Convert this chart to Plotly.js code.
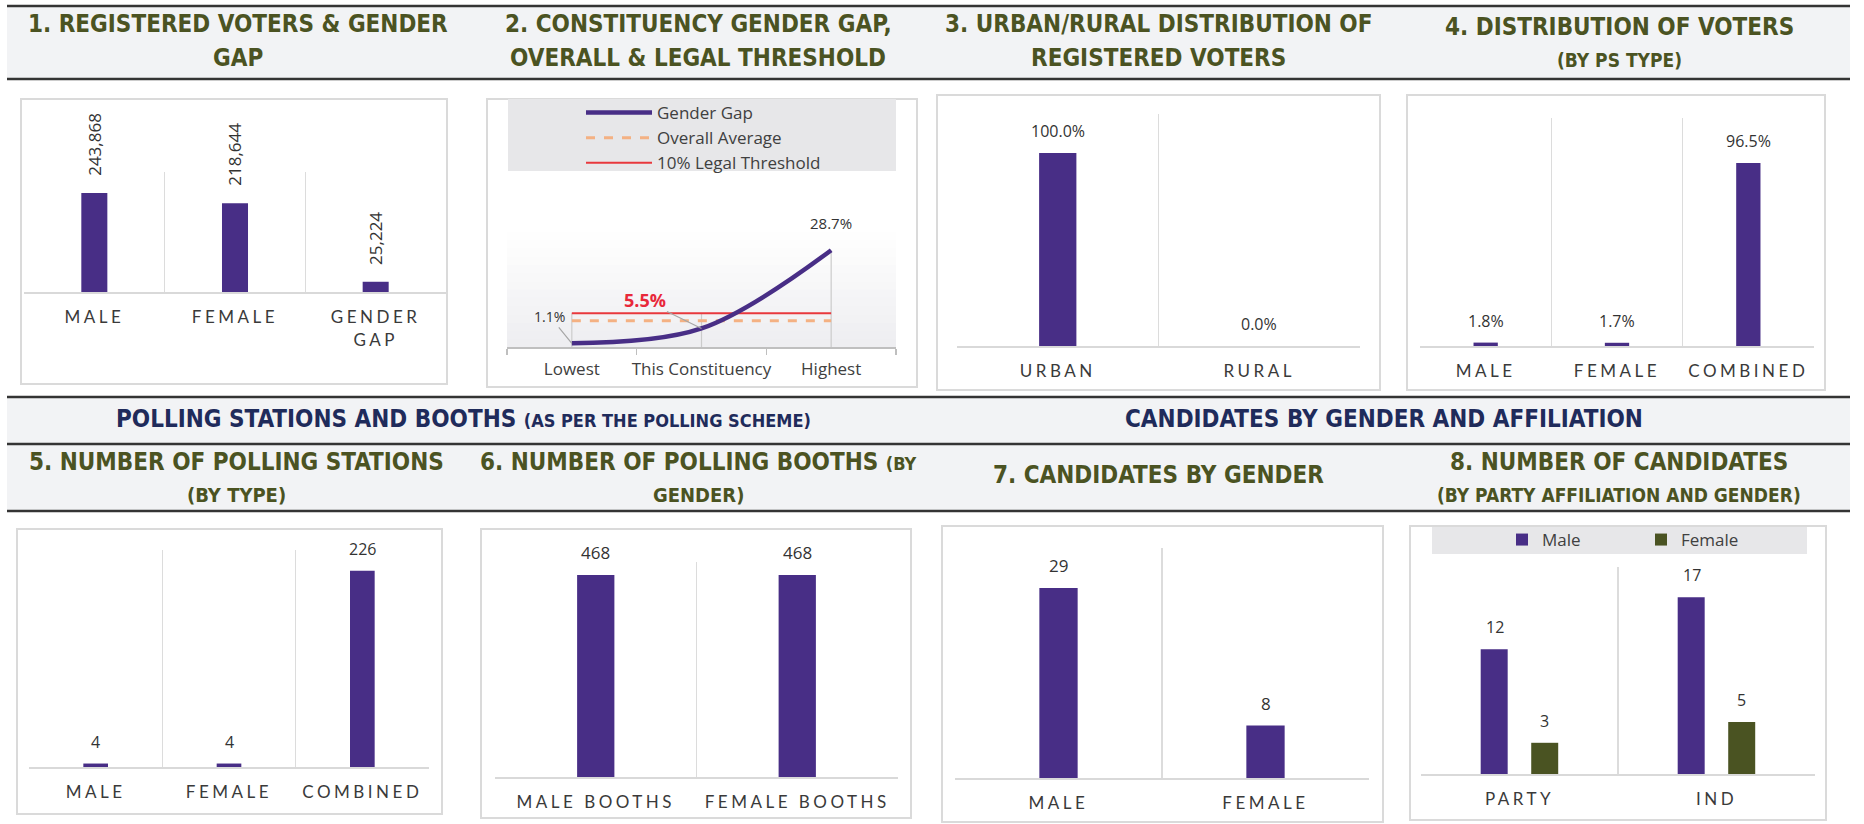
<!DOCTYPE html>
<html>
<head>
<meta charset="utf-8">
<script src="https://cdn.plot.ly/plotly-3.0.1.min.js"></script>
<style>
html,body{margin:0;padding:0;background:#fff;}
#chart{width:1864px;height:824px;}
g[class$="tick"] text{letter-spacing:3.5px;}
g.x2tick text{letter-spacing:0;}
</style>
</head>
<body>
<div id="chart"></div>
<script>
// ---------------- DATA ----------------
const voterCats = ['MALE', 'FEMALE', 'GENDER<br>GAP'];
const voterVals = [243868, 218644, 25224];
const voterLabels = ['243,868', '218,644', '25,224'];

const gapCats = ['Lowest', 'This Constituency', 'Highest'];
const gapVals = [1.1, 5.5, 28.7];
const gapLabels = ['1.1%', '5.5%', '28.7%'];
const overallAvg = 7.8;
const legalThreshold = 10;

const urbanCats = ['URBAN', 'RURAL'];
const urbanVals = [100.0, 0.0];
const urbanLabels = ['100.0%', '0.0%'];

const psTypeCats = ['MALE', 'FEMALE', 'COMBINED'];
const psTypeVals = [1.8, 1.7, 96.5];
const psTypeLabels = ['1.8%', '1.7%', '96.5%'];

const stationCats = ['MALE', 'FEMALE', 'COMBINED'];
const stationVals = [4, 4, 226];

const boothCats = ['MALE BOOTHS', 'FEMALE BOOTHS'];
const boothVals = [468, 468];

const candCats = ['MALE', 'FEMALE'];
const candVals = [29, 8];

const affilCats = ['PARTY', 'IND'];
const affilMale = [12, 17];
const affilFemale = [3, 5];

// ---------------- STYLE / GEOMETRY ----------------
const W = 1864, H = 824;
const X = v => v / W;
const Y = v => 1 - v / H;

const PURPLE = '#482e86';
const OLIVE = '#4a5322';
const TITLE_GREEN = '#4b5322';
const NAVY = '#1f2b5b';
const COND = '"DejaVu Sans Condensed","Liberation Sans Narrow",sans-serif';
const LABEL = '"Open Sans","Noto Sans",sans-serif';
const TICK = 'Lato,"Open Sans",sans-serif';

// [left, right, top, bottom] pixel boxes of plot areas, and y maxima
const geom = {
  1: [24, 446, 172, 292],
  2: [507, 896, 175, 347],
  3: [957, 1360, 114, 346],
  4: [1420, 1814, 118, 346],
  5: [29, 429, 550, 767],
  6: [495, 898, 562, 777],
  7: [955, 1369, 548, 778],
  8: [1421, 1815, 567, 774]
};
const ymax = {1: 295600, 2: 51, 3: 120.2, 4: 120.2, 5: 250, 6: 498, 7: 35.1, 8: 19.9};
const catsOf = {1: voterCats, 2: gapCats, 3: urbanCats, 4: psTypeCats, 5: stationCats, 6: boothCats, 7: candCats, 8: affilCats};

const sfx = n => (n > 1 ? String(n) : '');

// ---------------- TRACES ----------------
const traces = [];
function bars(n, cats, vals) {
  traces.push({
    type: 'bar', x: cats, y: vals, xaxis: 'x' + sfx(n), yaxis: 'y' + sfx(n),
    width: 0.185, marker: {color: PURPLE, line: {width: 0}},
    showlegend: false, hoverinfo: 'skip'
  });
}
bars(1, voterCats, voterVals);
bars(3, urbanCats, urbanVals);
bars(4, psTypeCats, psTypeVals);
bars(5, stationCats, stationVals);
bars(6, boothCats, boothVals);
bars(7, candCats, candVals);

// chart 8 grouped bars
traces.push({
  type: 'bar', name: 'Male', x: affilCats, y: affilMale, xaxis: 'x8', yaxis: 'y8',
  width: 0.137, offset: -0.197, marker: {color: PURPLE}, legend: 'legend2', hoverinfo: 'skip'
});
traces.push({
  type: 'bar', name: 'Female', x: affilCats, y: affilFemale, xaxis: 'x8', yaxis: 'y8',
  width: 0.137, offset: 0.0595, marker: {color: OLIVE}, legend: 'legend3', hoverinfo: 'skip'
});

// chart 2: drop lines, threshold, average, gender gap curve
const dropX = [], dropY = [];
gapCats.forEach((c, i) => {
  const top = Math.max(gapVals[i], legalThreshold, overallAvg);
  dropX.push(c, c, null);
  dropY.push(0, top, null);
});
traces.push({
  type: 'scatter', mode: 'lines', x: dropX, y: dropY, xaxis: 'x2', yaxis: 'y2',
  line: {color: '#cbcbcb', width: 1.2}, showlegend: false, hoverinfo: 'skip'
});
const ends = [gapCats[0], gapCats[gapCats.length - 1]];
traces.push({
  type: 'scatter', mode: 'lines', name: '10% Legal Threshold', legendrank: 3,
  x: ends, y: [legalThreshold, legalThreshold], xaxis: 'x2', yaxis: 'y2',
  line: {color: '#e8383d', width: 2}, legend: 'legend', hoverinfo: 'skip'
});
traces.push({
  type: 'scatter', mode: 'lines', name: 'Overall Average', legendrank: 2,
  x: ends, y: [overallAvg, overallAvg], xaxis: 'x2', yaxis: 'y2',
  line: {color: '#f4b183', width: 3, dash: 'dash'}, legend: 'legend', hoverinfo: 'skip'
});
traces.push({
  type: 'scatter', mode: 'lines', name: 'Gender Gap', legendrank: 1,
  x: gapCats, y: gapVals, xaxis: 'x2', yaxis: 'y2',
  line: {color: PURPLE, width: 4.5, shape: 'spline', smoothing: 1}, legend: 'legend', hoverinfo: 'skip'
});

// ---------------- LAYOUT ----------------
const legendFont = {family: LABEL, size: 17, color: '#404040'};
const layout = {
  width: W, height: H, margin: {l: 0, r: 0, t: 0, b: 0},
  paper_bgcolor: '#ffffff', plot_bgcolor: 'rgba(0,0,0,0)',
  barmode: 'overlay', showlegend: true, hovermode: false,
  shapes: [], annotations: [],
  legend: {
    x: X(581), y: Y(95), xanchor: 'left', yanchor: 'top', bgcolor: 'rgba(0,0,0,0)',
    font: {family: LABEL, size: 17, color: '#404040'}, itemwidth: 66, tracegroupgap: 0
  },
  legend2: {
    orientation: 'h', x: X(1502), y: Y(540), xanchor: 'left', yanchor: 'middle',
    bgcolor: 'rgba(0,0,0,0)', font: legendFont
  },
  legend3: {
    orientation: 'h', x: X(1641), y: Y(540), xanchor: 'left', yanchor: 'middle',
    bgcolor: 'rgba(0,0,0,0)', font: legendFont
  }
};

for (let n = 1; n <= 8; n++) {
  const [l, r, t, b] = geom[n];
  const s = sfx(n);
  const cats = catsOf[n];
  const xa = {
    domain: [X(l), X(r)], anchor: 'y' + s, type: 'category',
    categoryorder: 'array', categoryarray: cats,
    range: [-0.5, cats.length - 0.5], tickson: 'boundaries', tickangle: 0,
    showgrid: true, gridcolor: '#dcdcdc', gridwidth: 1.5,
    showline: true, linecolor: '#d9d9d9', linewidth: 2,
    ticks: '', ticklabelstandoff: 9, zeroline: false, fixedrange: true,
    tickfont: {family: TICK, size: 17, color: '#3a3a3a'}
  };
  if (n === 2) {
    Object.assign(xa, {
      showgrid: false, linecolor: '#bfbfbf', linewidth: 1.5,
      ticks: 'outside', ticklen: 6, tickcolor: '#bfbfbf', tickwidth: 1.2,
      ticklabelstandoff: 6, tickfont: {family: LABEL, size: 17, color: '#404040'}
    });
  }
  layout['xaxis' + s] = xa;
  layout['yaxis' + s] = {
    domain: [Y(b), Y(t)], anchor: 'x' + s, range: [0, ymax[n]],
    visible: false, fixedrange: true
  };
}

// ---- decorative shapes ----
const S = layout.shapes;
function rect(x0, x1, y0, y1, fill, lineColor, lw) {
  S.push({type: 'rect', xref: 'paper', yref: 'paper', layer: 'below',
    x0: X(x0), x1: X(x1), y0: Y(y1), y1: Y(y0),
    fillcolor: fill, line: {color: lineColor || 'rgba(0,0,0,0)', width: lw || 0}});
}
function hline(y, x0, x1, color, w) {
  S.push({type: 'line', xref: 'paper', yref: 'paper', layer: 'above',
    x0: X(x0), x1: X(x1), y0: Y(y), y1: Y(y), line: {color: color, width: w}});
}
// header bands
rect(7, 1850, 6, 79, '#f2f3f5');
rect(7, 1850, 397, 444, '#f2f3f5');
rect(7, 1850, 444, 511, '#f2f3f5');
[6, 79, 397, 444, 511].forEach(y => hline(y, 7, 1850, '#343434', 2.5));

// chart boxes
[[21, 447, 99, 384], [487, 917, 99, 387], [937, 1380, 95, 390], [1407, 1825, 95, 390],
 [17, 442, 529, 814], [481, 911, 529, 818], [942, 1383, 526, 822], [1410, 1826, 526, 820]]
  .forEach(bx => rect(bx[0], bx[1], bx[2], bx[3], 'rgba(0,0,0,0)', '#dadada', 2));

// chart 2 plot background gradient
const g0 = 232, g1 = 347, steps = 14;
for (let i = 0; i < steps; i++) {
  const f = (i + 0.5) / steps;
  const c = Math.round(255 - f * 18);
  const cb = Math.round(255 - f * 15);
  rect(507, 896, g0 + (g1 - g0) * i / steps, g0 + (g1 - g0) * (i + 1) / steps + 0.5,
    'rgb(' + c + ',' + c + ',' + cb + ')');
}
// legend backgrounds
rect(508, 896, 99, 171, '#e7e7e9');
rect(1432, 1807, 527, 554, '#e7e7e9');

// ---- titles ----
const A = layout.annotations;
function txt(text, cx, cy, size, color, family, weight) {
  A.push({xref: 'paper', yref: 'paper', x: X(cx), y: Y(cy), xanchor: 'center', yanchor: 'middle',
    text: text, showarrow: false,
    font: {family: family || COND, size: size, color: color || TITLE_GREEN, weight: weight || 700}});
}
txt('1. REGISTERED VOTERS &amp; GENDER', 238, 24, 24);
txt('GAP', 238, 58, 24);
txt('2. CONSTITUENCY GENDER GAP,', 698, 24, 24);
txt('OVERALL &amp; LEGAL THRESHOLD', 698, 58, 24);
txt('3. URBAN/RURAL DISTRIBUTION OF', 1158, 24, 24);
txt('REGISTERED VOTERS', 1158, 58, 24);
txt('4. DISTRIBUTION OF VOTERS', 1619, 27, 24);
txt('(BY PS TYPE)', 1619, 60, 19);

txt('POLLING STATIONS AND BOOTHS <span style="font-size:18px">(AS PER THE POLLING SCHEME)</span>', 463, 419, 24, NAVY);
txt('CANDIDATES BY GENDER AND AFFILIATION', 1384, 419, 24, NAVY);

txt('5. NUMBER OF POLLING STATIONS', 237, 462, 24);
txt('(BY TYPE)', 237, 495, 20);
txt('6. NUMBER OF POLLING BOOTHS <span style="font-size:18px">(BY</span>', 698, 462, 24);
txt('GENDER)', 698, 495, 20);
txt('7. CANDIDATES BY GENDER', 1158, 475, 24);
txt('8. NUMBER OF CANDIDATES', 1619, 462, 24);
txt('(BY PARTY AFFILIATION AND GENDER)', 1619, 495, 19);

// ---- data labels (positioned through the axes) ----
function labels(n, cats, vals, texts, opts) {
  const s = sfx(n);
  cats.forEach((c, i) => {
    A.push(Object.assign({
      xref: 'x' + s, yref: 'y' + s, x: c, y: vals[i], text: texts[i], showarrow: false,
      xanchor: 'center', yanchor: 'middle', yshift: 22,
      font: {family: LABEL, size: 16, color: '#333333'}
    }, opts || {}));
  });
}
labels(1, voterCats, voterVals, voterLabels,
  {textangle: -90, yanchor: 'bottom', yshift: 15, font: {family: LABEL, size: 17, color: '#333333'}});
labels(3, urbanCats, urbanVals, urbanLabels);
labels(4, psTypeCats, psTypeVals, psTypeLabels);
labels(5, stationCats, stationVals, stationVals.map(String));
labels(6, boothCats, boothVals, boothVals.map(String), {font: {family: LABEL, size: 17, color: '#333333'}});
labels(7, candCats, candVals, candVals.map(String), {font: {family: LABEL, size: 17, color: '#333333'}});
labels(8, affilCats, affilMale, affilMale.map(String), {xshift: -25});
labels(8, affilCats, affilFemale, affilFemale.map(String), {xshift: 25});

// chart 2 point labels with leader lines
A.push({xref: 'x2', yref: 'y2', x: gapCats[0], y: gapVals[0], text: gapLabels[0],
  showarrow: true, arrowhead: 0, arrowwidth: 1.2, arrowcolor: '#a6a6a6', ax: -22, ay: -27, standoff: 0,
  font: {family: LABEL, size: 14, color: '#333333'}});
A.push({xref: 'x2', yref: 'y2', x: gapCats[1], y: gapVals[1], text: gapLabels[1],
  showarrow: true, arrowhead: 0, arrowwidth: 1.2, arrowcolor: '#a6a6a6', ax: -57, ay: -28, standoff: 0,
  font: {family: LABEL, size: 18, color: '#e8283a', weight: 700}});
A.push({xref: 'x2', yref: 'y2', x: gapCats[2], y: gapVals[2], text: gapLabels[2],
  showarrow: false, yshift: 27, font: {family: LABEL, size: 15, color: '#333333'}});

Plotly.newPlot('chart', traces, layout, {displayModeBar: false, staticPlot: true});
</script>
</body>
</html>
